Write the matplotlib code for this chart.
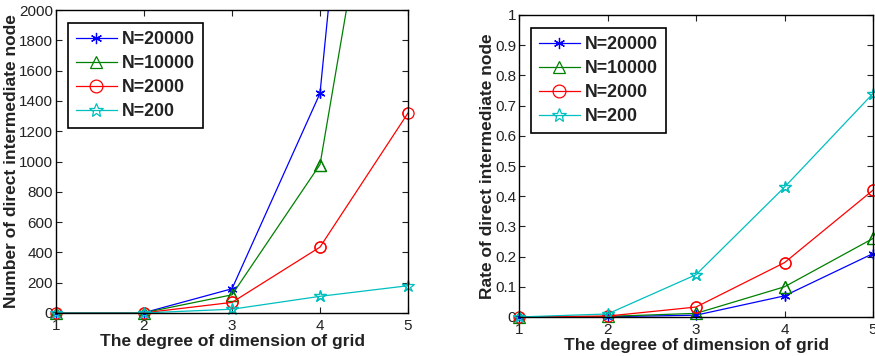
import numpy as np
import matplotlib
matplotlib.use("Agg")
import matplotlib.pyplot as plt
from matplotlib.ticker import FuncFormatter

plt.rcParams["font.family"] = ["Liberation Sans", "DejaVu Sans"]

# данные
degree = [1, 2, 3, 4, 5]
labels = ["N=20000", "N=10000", "N=2000", "N=200"]
count_20000 = [0, 2, 160, 1450, 7300]
count_10000 = [0, 2, 120, 980, 4380]
count_2000 = [0, 1, 70, 435, 1320]
count_200 = [0, 0.5, 25, 110, 180]
rate_20000 = [0, 0.001, 0.006, 0.07, 0.21]
rate_10000 = [0, 0.002, 0.012, 0.10, 0.26]
rate_2000 = [0, 0.003, 0.033, 0.18, 0.42]
rate_200 = [0, 0.01, 0.14, 0.43, 0.74]

colors = ["#0000ff", "#008000", "#ff0000", "#00bfbf"]
markers = [(6, 2, 0), "^", "o", "*"]
msizes = [7, 8, 8, 9]


def style_axes(ax):
    ax.tick_params(direction="in", top=True, right=True, labelsize=11,
                   length=4, width=0.8, pad=2, colors="#222222")
    ax.tick_params(axis="x", pad=4)
    for s in ax.spines.values():
        s.set_linewidth(1.0)
    ax.set_xlim(1, 5)
    ax.set_xticks(degree)
    ax.set_xlabel("The degree of dimension of grid", fontsize=12.5, fontweight="bold",
                  labelpad=1, color="#222222")


def draw(ax, series, ymax):
    for vals, lab, c, m, ms in zip(series, labels, colors, markers, msizes):
        ax.plot(degree, vals, color=c, lw=0.9, label=lab, marker=m, ms=ms,
                mfc="none", mec=c, mew=0.9)
        # маркеры на краях не обрезаем
        pts = [(x, v) for x, v in zip(degree, vals) if v <= ymax]
        ax.plot([p[0] for p in pts], [p[1] for p in pts], ls="none", marker=m, ms=ms,
                mfc="none", mec=c, mew=0.9, clip_on=False)
    leg = ax.legend(loc="upper left", bbox_to_anchor=(0.034, 0.957), borderaxespad=0,
                    fancybox=False, edgecolor="black", framealpha=1, handlelength=2.3,
                    prop={"weight": "bold", "size": 12.8}, borderpad=0.45,
                    labelspacing=0.4, handletextpad=0.3, markerscale=1.15)
    leg.get_frame().set_linewidth(1.2)
    for t in leg.get_texts():
        t.set_color("#222222")


fig = plt.figure(figsize=(8.75, 3.56), dpi=100)
ax1 = fig.add_axes([56 / 875, 1 - 313 / 356, 352 / 875, 303 / 356])
ax2 = fig.add_axes([519 / 875, 1 - 317 / 356, 354 / 875, 302 / 356])

draw(ax1, [count_20000, count_10000, count_2000, count_200], 2000)
style_axes(ax1)
ax1.set_ylim(0, 2000)
ax1.set_yticks(np.arange(0, 2001, 200))
ax1.set_ylabel("Number of direct intermediate node", fontsize=12.5, fontweight="bold",
               labelpad=0, color="#222222")

draw(ax2, [rate_20000, rate_10000, rate_2000, rate_200], 1)
style_axes(ax2)
ax2.set_ylim(0, 1)
ax2.set_yticks(np.arange(0, 1.01, 0.1))
ax2.yaxis.set_major_formatter(FuncFormatter(lambda v, p: f"{v:g}"))
ax2.set_ylabel("Rate of direct intermediate node", fontsize=12.5, fontweight="bold",
               labelpad=0, color="#222222")

fig.savefig("out.png", dpi=100)
